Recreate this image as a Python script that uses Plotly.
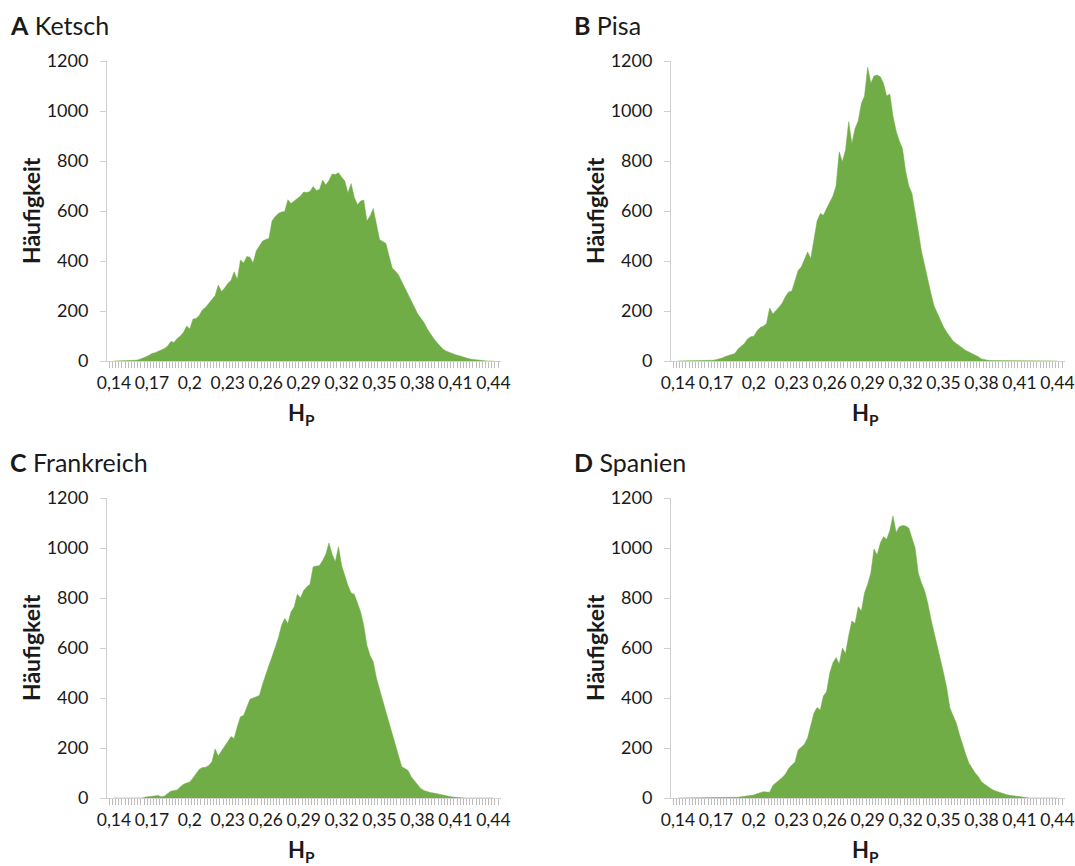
import plotly.graph_objects as go

# Bin centres of the H_P histogram (0.14 ... 0.44, step 0.0025)
h_p = [round(0.14 + 0.0025 * i, 4) for i in range(121)]

ketsch = [0, 0, 0, 0, 0, 0, 1, 3, 6, 10, 16, 22, 30, 33, 38, 44, 50, 60, 78, 74,
          90, 100, 115, 140, 128, 168, 170, 183, 205, 215, 232, 245, 262, 304, 278, 292, 310, 322, 357, 326,
          404, 392, 418, 415, 392, 440, 458, 480, 486, 490, 560, 578, 590, 596, 598, 645, 630, 640, 650, 660,
          676, 674, 678, 698, 682, 686, 724, 704, 722, 748, 746, 753, 735, 720, 672, 710, 655, 625, 640, 644,
          560, 580, 610, 540, 486, 478, 470, 420, 372, 360, 344, 318, 292, 268, 240, 212, 190, 172, 155, 130,
          108, 92, 76, 62, 48, 40, 34, 28, 25, 22, 17, 13, 10, 7, 5, 3, 2, 1, 0, 0, 0]

pisa = [0, 0, 0, 0, 0, 0, 0, 0, 0, 0, 2, 3, 5, 7, 12, 18, 23, 26, 30, 48,
        58, 70, 88, 97, 99, 120, 134, 139, 150, 212, 188, 200, 216, 232, 258, 276, 280, 320, 362, 376,
        405, 436, 410, 490, 560, 590, 583, 610, 632, 660, 700, 837, 797, 845, 957, 870, 930, 960, 1030, 1060,
        1175, 1111, 1140, 1144, 1137, 1111, 1060, 1068, 980, 920, 880, 850, 760, 700, 670, 600, 520, 440, 380, 330,
        270, 220, 190, 160, 136, 115, 96, 80, 70, 60, 50, 42, 36, 30, 25, 17, 8, 4, 3, 2,
        2, 1, 0, 0, 0, 0, 0, 0, 0, 0, 0, 0, 0, 0, 0, 0, 0, 0, 0, 0, 0]

frankreich = [0, 0, 0, 0, 0, 0, 0, 0, 0, 0, 4, 6, 8, 9, 10, 5, 8, 18, 27, 30,
              32, 45, 55, 60, 64, 80, 96, 115, 122, 123, 130, 145, 196, 168, 188, 205, 225, 246, 238, 285,
              325, 330, 360, 395, 400, 404, 410, 455, 496, 530, 565, 600, 640, 690, 718, 698, 745, 765, 815, 800,
              830, 845, 855, 925, 928, 930, 950, 975, 1020, 975, 945, 1005, 930, 890, 850, 820, 815, 780, 745, 690,
              610, 570, 545, 480, 430, 390, 345, 300, 255, 205, 165, 125, 118, 110, 85, 68, 50, 38, 30, 25,
              22, 20, 17, 15, 11, 8, 5, 4, 3, 1, 0, 0, 0, 0, 0, 0, 0, 0, 0, 0, 0]

spanien = [0, 0, 0, 0, 0, 0, 0, 0, 0, 0, 0, 0, 0, 0, 0, 0, 0, 0, 1, 3,
           5, 6, 8, 9, 12, 17, 22, 25, 24, 23, 50, 60, 69, 82, 96, 118, 132, 143, 192, 205,
           215, 240, 290, 340, 362, 352, 408, 425, 500, 540, 562, 536, 600, 578, 650, 708, 698, 765, 748, 820,
           855, 900, 996, 972, 1020, 1045, 1035, 1070, 1129, 1062, 1085, 1090, 1088, 1080, 1040, 1000, 900, 860, 830, 780,
           716, 665, 610, 558, 500, 440, 360, 330, 300, 255, 210, 175, 140, 118, 100, 85, 65, 55, 45, 37,
           30, 25, 20, 16, 13, 11, 9, 6, 4, 1, 0, 0, 0, 0, 0, 0, 0, 0, 0, 0, 0]

panels = [("A", "Ketsch", ketsch), ("B", "Pisa", pisa),
          ("C", "Frankreich", frankreich), ("D", "Spanien", spanien)]

x_tick_vals = [0.14, 0.17, 0.20, 0.23, 0.26, 0.29, 0.32, 0.35, 0.38, 0.41, 0.44]
x_tick_text = ["0,14", "0,17", "0,2", "0,23", "0,26", "0,29", "0,32", "0,35", "0,38", "0,41", "0,44"]
y_tick_vals = [0, 200, 400, 600, 800, 1000, 1200]

W, H = 1075, 866
GREEN = "#70AD47"
AXIS_GREY = "#D0D0D0"
TEXT = "#1a1a1a"
FONT = "Lato"

# plot-area pixel boxes (left, right, top, bottom) for each panel
boxes = [(107, 501, 61, 361), (671, 1065, 61, 361),
         (107, 501, 498, 798), (671, 1065, 498, 798)]

fig = go.Figure()
layout = dict(
    width=W, height=H,
    margin=dict(l=0, r=0, t=0, b=0, autoexpand=False),
    paper_bgcolor="white", plot_bgcolor="white",
    showlegend=False,
    font=dict(family=FONT, color=TEXT),
)
annotations = []

for i, ((letter, name, values), (l, r, t, b)) in enumerate(zip(panels, boxes)):
    suffix = "" if i == 0 else str(i + 1)
    fig.add_trace(go.Scatter(
        x=h_p, y=values, mode="lines", fill="tozeroy",
        fillcolor=GREEN, line=dict(color=GREEN, width=0.5),
        xaxis="x" + suffix, yaxis="y" + suffix, hoverinfo="skip",
    ))
    layout["xaxis" + suffix] = dict(
        domain=[l / W, r / W], anchor="y" + suffix,
        range=[0.1345, 0.446], automargin=False,
        tickmode="array", tickvals=x_tick_vals, ticktext=x_tick_text,
        ticks="", showgrid=False, zeroline=False,
        showline=True, linecolor=AXIS_GREY, linewidth=1,
        tickfont=dict(size=17.5, family=FONT, color=TEXT),
        ticklabelstandoff=6,
        minor=dict(tickmode="linear", tick0=0.13875, dtick=0.0025,
                   ticks="outside", ticklen=6, tickwidth=1,
                   tickcolor="#BDBDBD", showgrid=False),
        fixedrange=True,
    )
    layout["yaxis" + suffix] = dict(
        domain=[1 - b / H, 1 - t / H], anchor="x" + suffix,
        range=[0, 1200], automargin=False,
        tickmode="array", tickvals=y_tick_vals,
        ticks="outside", ticklen=6, tickcolor=AXIS_GREY,
        showgrid=False, zeroline=False,
        showline=True, linecolor=AXIS_GREY, linewidth=1,
        tickfont=dict(size=18, family=FONT, color=TEXT),
        ticklabelstandoff=8,
        fixedrange=True,
    )
    # panel heading
    annotations.append(dict(
        text=f"<b>{letter}</b> {name}", xref="paper", yref="paper",
        x=(l - 99) / W, y=1 - (t - 36) / H, xanchor="left", yanchor="middle",
        showarrow=False, font=dict(size=25, family=FONT, color=TEXT),
    ))
    # y-axis title
    annotations.append(dict(
        text="<b>Häufigkeit</b>", xref="paper", yref="paper",
        x=(l - 76) / W, y=1 - ((t + b) / 2) / H, xanchor="center", yanchor="middle",
        textangle=-90, showarrow=False, font=dict(size=23, family=FONT, color=TEXT),
    ))
    # x-axis title
    annotations.append(dict(
        text="<b>H<sub>P</sub></b>", xref="paper", yref="paper",
        x=((l + r) / 2 - 3) / W, y=1 - (b + 53) / H, xanchor="center", yanchor="middle",
        showarrow=False, font=dict(size=22, family=FONT, color=TEXT),
    ))

layout["annotations"] = annotations
fig.update_layout(**layout)
fig.write_html("out.html")
